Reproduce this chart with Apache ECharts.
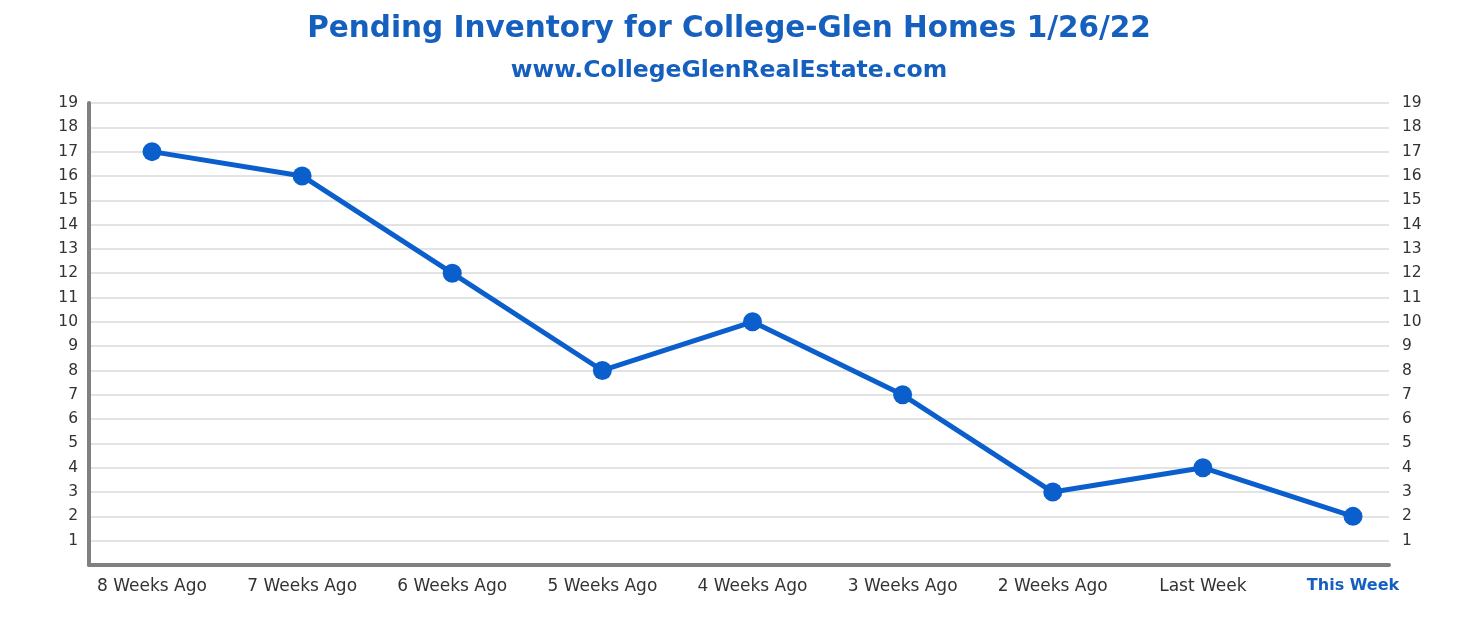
<!DOCTYPE html>
<html>
<head>
<meta charset="utf-8">
<script src="https://cdn.jsdelivr.net/npm/echarts@6/dist/echarts.min.js"></script>
<style>html,body{margin:0;padding:0;background:#fff;}#c{width:1472px;height:623px;}</style>
</head>
<body>
<div id="c"></div>
<script>
var categories = ['8 Weeks Ago','7 Weeks Ago','6 Weeks Ago','5 Weeks Ago','4 Weeks Ago','3 Weeks Ago','2 Weeks Ago','Last Week','This Week'];
var pending = [17, 16, 12, 8, 10, 7, 3, 4, 2];
var yMin = 0, yMax = 19, yStep = 1;

var chart = echarts.init(document.getElementById('c'));
var FONT = 'DejaVu Sans';
var gridTop = 103, gridBottom = 58;
chart.setOption({
  animation: false,
  backgroundColor: '#fff',
  title: [
    {text: 'Pending Inventory for College-Glen Homes 1/26/22', left: 724, top: 9, textAlign: 'center',
     textStyle: {fontFamily: FONT, fontWeight: 'bold', fontSize: 29.5, color: '#155fbf'}},
    {text: 'www.CollegeGlenRealEstate.com', left: 724, top: 54, textAlign: 'center',
     textStyle: {fontFamily: FONT, fontWeight: 'bold', fontSize: 23.5, color: '#155fbf'}}
  ],
  grid: [
    {left: 89, right: 83, top: gridTop, bottom: gridBottom},
    {left: 152, right: 119, top: gridTop, bottom: gridBottom}
  ],
  xAxis: [
    {gridIndex: 0, type: 'category', data: categories, boundaryGap: false,
     axisLine: {show: true, lineStyle: {color: '#808080', width: 4}}, axisTick: {show: false},
     axisLabel: {show: false}, splitLine: {show: false}},
    {gridIndex: 1, type: 'category', data: categories, boundaryGap: false,
     axisLine: {show: false}, axisTick: {show: false},
     axisLabel: {show: true, margin: 13, fontFamily: FONT, fontSize: 17, color: '#333',
       interval: 0,
       formatter: function (v, i) { return i === categories.length - 1 ? '{b|' + v + '}' : v; },
       rich: {b: {fontFamily: FONT, fontSize: 16, fontWeight: 'bold', color: '#155fbf'}}},
     splitLine: {show: false}}
  ],
  yAxis: [
    {gridIndex: 0, type: 'value', min: yMin, max: yMax, interval: yStep, position: 'left',
     axisLine: {show: true, lineStyle: {color: '#808080', width: 4}}, axisTick: {show: false},
     axisLabel: {margin: 11, fontFamily: FONT, fontSize: 15.5, color: '#333',
       formatter: function (v) { return v === 0 ? '' : String(v); }},
     splitLine: {show: true, lineStyle: {color: '#e3e3e3', width: 2}}},
    {gridIndex: 0, type: 'value', min: yMin, max: yMax, interval: yStep, position: 'right',
     axisLine: {show: false}, axisTick: {show: false},
     axisLabel: {margin: 13, fontFamily: FONT, fontSize: 15.5, color: '#333',
       formatter: function (v) { return v === 0 ? '' : String(v); }},
     splitLine: {show: false}},
    {gridIndex: 1, type: 'value', min: yMin, max: yMax, interval: yStep, show: false}
  ],
  series: [{
    type: 'line', xAxisIndex: 1, yAxisIndex: 2, data: pending,
    symbol: 'circle', symbolSize: 19,
    lineStyle: {color: '#0b5fcc', width: 5},
    itemStyle: {color: '#0b5fcc'}
  }]
});
</script>
</body>
</html>
